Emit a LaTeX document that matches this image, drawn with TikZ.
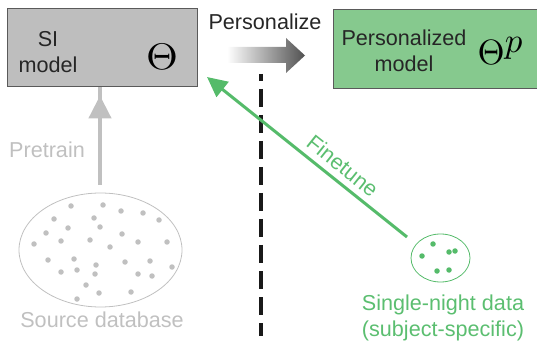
\documentclass[tikz,border=0pt]{standalone}
\usepackage{fontspec}
\setmainfont{Liberation Sans}
\usetikzlibrary{arrows.meta,shapes.geometric,shadings}
\definecolor{boxgray}{RGB}{190,190,190}
\definecolor{boxedge}{RGB}{90,90,90}
\definecolor{lightgray}{RGB}{192,192,192}
\definecolor{boxgreen}{RGB}{134,201,142}
\definecolor{linegreen}{RGB}{85,187,106}
\definecolor{textgreen}{RGB}{91,190,112}
\definecolor{darkarrow}{RGB}{50,50,50}
\begin{document}
\begin{tikzpicture}[x=1pt,y=-1pt,
  lbl/.style={font=\fontsize{21.6}{26}\selectfont, align=center, inner sep=0pt},
  modelbox/.style={draw=boxedge, line width=1pt, inner sep=0pt},
  dot/.style={circle, inner sep=0pt, minimum size=5.5pt},
  thet/.style={inner sep=0pt, xscale=4.1, yscale=3.7}]
\useasboundingbox (0,0) rectangle (537,344);
% boxes
\node[modelbox, fill=boxgray, minimum width=190pt, minimum height=78pt] (si) at (102,48) {};
\node[modelbox, fill=boxgreen, minimum width=205pt, minimum height=79pt] (pm) at (436,49.5) {};
\node[lbl, text=black!85] (sitext) at (48,52) {SI\\model};
\node[thet] (th) at (162,57) {$\Theta$};
\node[lbl, text=black!85] (pmtext) at (404,51) {Personalized\\model};
\node[thet, anchor=west, xscale=0.85, yscale=0.95] (thp) at (477,51) {$\Theta^{\textstyle p}$};
% personalize arrow
\node[lbl, text=black!85] (perslbl) at (265,22) {Personalize};
\shade[left color=white, right color=darkarrow!85, shading angle=90]
  (227,47) -- (286,47) -- (286,38) -- (305,55.5) -- (286,73) -- (286,63) -- (227,63) -- cycle;
% dashed line
\coordinate (d1) at (261,74);
\coordinate (d2) at (261,336);
\draw[line width=3.5pt, black!90, dash pattern=on 18pt off 8pt, dash phase=11pt] (d1) -- (d2);
% source database
\node[draw=lightgray, line width=0.8pt, ellipse, minimum width=163pt, minimum height=114pt, inner sep=0pt] (src) at (100.5,250) {};
\foreach \p in {(71,206),(103,205),(121,211),(143,213),(159,220),(54,219),(94,218),(68,228),(100,227),(46,233),(122,234),(61,241),(90,240),(138,242),(167,242),(34,244),(110,247),(48,260),(74,259),(125,262),(150,261),(96,265),(172,267),(61,272),(77,270),(95,274),(138,274),(152,276),(86,285),(99,293),(131,292),(77,299)}
  \node[dot, fill=lightgray] at \p {};
\node[lbl, text=lightgray] (srclbl) at (102,320) {Source database};
% pretrain arrow
\coordinate (pt1) at (100,185);
\draw[line width=4.5pt, lightgray, -{Triangle[length=23pt,width=22pt]}] (pt1) -- (si.south -| pt1) ++(0,8);
\node[lbl, text=lightgray] (ptlbl) at (47,150) {Pretrain};
% single-night data
\node[draw=linegreen, line width=0.8pt, ellipse, minimum width=59pt, minimum height=48pt, inner sep=0pt] (sn) at (440.5,258) {};
\foreach \p in {(433,244),(422,256),(449,252),(455,251),(437,271),(449,270)}
  \node[dot, fill=linegreen] at \p {};
\node[lbl, text=textgreen] (snlbl) at (443,318) {Single-night data\\(subject-specific)};
% finetune arrow
\coordinate (ft1) at (407,237);
\coordinate (ft2) at (207,77);
\draw[line width=3pt, linegreen, -{Triangle[length=20pt,width=19pt]}] (ft1) -- (ft2)
  node[pos=0.37, sloped, above=6pt, lbl, text=textgreen] (ftlbl) {Finetune};
\end{tikzpicture}
\end{document}
